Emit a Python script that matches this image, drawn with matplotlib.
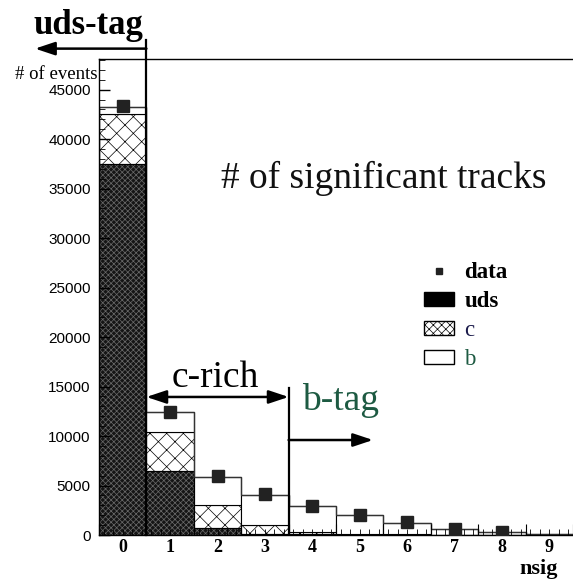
import numpy as np
import matplotlib
matplotlib.use("Agg")
import matplotlib.pyplot as plt
from matplotlib.lines import Line2D
from matplotlib.patches import Patch
from matplotlib.ticker import MultipleLocator, NullFormatter

# nsig bins
nsig = np.arange(10)
tick_labels = [str(i) for i in nsig]

# MC components (stacked) and data
uds = [37500, 6500, 700, 150, 60, 30, 15, 5, 0, 0]
charm = [5000, 3950, 2300, 830, 200, 100, 50, 20, 10, 0]
bottom = [800, 1950, 2850, 3100, 2700, 1920, 1115, 615, 290, 100]
data = [43400, 12400, 5930, 4100, 2900, 2050, 1300, 600, 300, np.nan]

SERIF = "Liberation Serif"
SANS = "Liberation Sans"
GREEN = "#1d5a42"
NAVY = "#1a1a4a"

fig = plt.figure(figsize=(5.73, 5.86), dpi=100)
ax = fig.add_axes([0.1728, 0.087, 0.8272, 0.8123])

uds = np.array(uds)
charm = np.array(charm)
bottom = np.array(bottom)
total = uds + charm + bottom
edges = np.append(nsig - 0.5, nsig[-1] + 0.5)

plt.rcParams["hatch.linewidth"] = 0.5
# uds : dark fine pattern
ax.bar(nsig, uds, width=1.0, color="#151515", edgecolor="#6a6a6a",
       hatch="xxxxxx", linewidth=0, zorder=1)
ax.bar(nsig, uds, width=1.0, fill=False, edgecolor="black", linewidth=0.8, zorder=1.1)
# c : cross hatch
ax.bar(nsig, charm, bottom=uds, width=1.0, color="white", edgecolor="black",
       hatch="xx", linewidth=0.8, zorder=1)
# b : white
ax.bar(nsig, bottom, bottom=uds + charm, width=1.0, color="white",
       edgecolor="black", linewidth=0.8, zorder=1)
ax.stairs(total, edges, color="#333333", linewidth=1.0, zorder=1.2)

ax.plot(nsig, data, ls="", marker="s", ms=8, color="#222222", zorder=3)

ax.set_xlim(-0.5, 9.5)
ax.set_ylim(0, 48100)

# ticks
ax.set_xticks(edges)
ax.xaxis.set_minor_locator(MultipleLocator(0.2))
ax.xaxis.set_major_formatter(NullFormatter())
ax.tick_params(axis="x", which="major", direction="in", length=8, width=0.8)
ax.tick_params(axis="x", which="minor", direction="in", length=4, width=0.6)
ax.yaxis.set_major_locator(MultipleLocator(5000))
ax.yaxis.set_minor_locator(MultipleLocator(1000))
ax.tick_params(axis="y", which="major", direction="in", length=8, width=1.0,
               labelsize=11, pad=6)
ax.tick_params(axis="y", which="minor", direction="in", length=4, width=0.6)
for lab in ax.get_yticklabels():
    lab.set_fontfamily(SANS)

sec = ax.secondary_xaxis("bottom")
sec.set_xticks(nsig)
sec.set_xticklabels(tick_labels, fontfamily=SERIF, fontweight="bold", fontsize=13)
sec.tick_params(length=0, pad=3)
sec.spines["bottom"].set_visible(False)

ax.spines["right"].set_visible(False)
for s in ["left", "bottom", "top"]:
    ax.spines[s].set_linewidth(1.0)

# tag regions
ax.plot([0.5, 0.5], [0, 50050], color="black", lw=1.6, clip_on=False, zorder=4)
ax.annotate("", xy=(-1.85, 49150), xytext=(0.5, 49150), annotation_clip=False,
            arrowprops=dict(arrowstyle="-|>,head_length=1.2,head_width=0.4",
                            color="black", lw=1.8, shrinkA=0, shrinkB=0))
ax.text(-0.73, 50600, "uds-tag", ha="center", va="baseline", fontfamily=SERIF,
        fontweight="bold", fontsize=25, clip_on=False)

ax.annotate("", xy=(0.5, 13950), xytext=(3.5, 13950),
            arrowprops=dict(arrowstyle="<|-|>,head_length=1.2,head_width=0.4",
                            color="black", lw=1.8, shrinkA=0, shrinkB=0))
ax.text(1.95, 14970, "c-rich", ha="center", va="baseline", fontfamily=SERIF,
        fontsize=27)

ax.plot([3.5, 3.5], [0, 14870], color="black", lw=1.6, zorder=4)
ax.annotate("", xy=(5.28, 9600), xytext=(3.5, 9600),
            arrowprops=dict(arrowstyle="-|>,head_length=1.2,head_width=0.4",
                            color="black", lw=1.8, shrinkA=0, shrinkB=0))
ax.text(3.78, 12640, "b-tag", ha="left", va="baseline", fontfamily=SERIF,
        fontsize=27, color=GREEN)

ax.text(5.51, 35100, "# of significant tracks", ha="center", va="baseline",
        fontfamily=SERIF, fontsize=27, color="#111111")

ax.text(-0.004, 0.958, "# of events", transform=ax.transAxes, ha="right",
        va="baseline", fontfamily=SERIF, fontsize=13.5)
ax.text(0.968, -0.082, "nsig", transform=ax.transAxes, ha="right", va="baseline",
        fontfamily=SERIF, fontweight="bold", fontsize=16)

# legend
handles = [
    Line2D([], [], ls="", marker="s", ms=5, color="#222222"),
    Patch(facecolor="black", edgecolor="black"),
    Patch(facecolor="white", edgecolor="black", hatch="xxxx"),
    Patch(facecolor="white", edgecolor="black"),
]
leg = ax.legend(handles, ["data", "uds", "c", "b"], loc="upper left",
                bbox_to_anchor=(0.662, 0.597), frameon=False,
                prop={"family": SERIF, "size": 16.5},
                handlelength=1.3, handleheight=0.55, handletextpad=0.45,
                labelspacing=0.35, borderpad=0)
texts = leg.get_texts()
texts[0].set_fontweight("bold")
texts[1].set_fontweight("bold")
texts[2].set_color(NAVY)
texts[3].set_color(GREEN)

fig.savefig("out.png", dpi=100)
